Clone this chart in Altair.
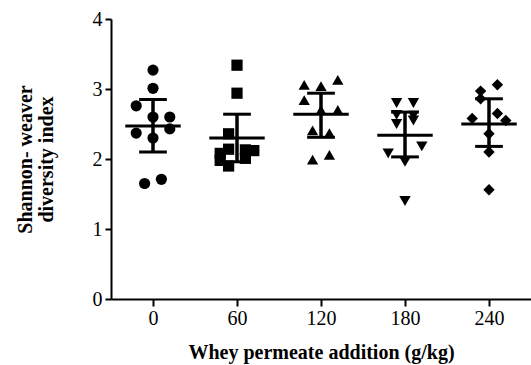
import json
import altair as alt
import pandas as pd

groups = ["0", "60", "120", "180", "240"]
shapes = ["circle", "square", "triangle-up", "triangle-down", "diamond"]

g0_vals = [3.27, 3.01, 2.76, 2.60, 2.60, 2.43, 2.37, 2.30, 1.71, 1.65]
g0_slots = [0, 0, -2, 0, 2, 2, -2, 0, 1, -1]
g60_vals = [3.34, 2.94, 2.36, 2.14, 2.13, 2.12, 2.08, 2.01, 1.98, 1.90]
g60_slots = [0, 0, -1, -1, 1, 2, -2, 1, -2, -1]
g120_vals = [3.13, 3.06, 3.04, 2.84, 2.70, 2.70, 2.41, 2.37, 2.06, 1.99]
g120_slots = [2, -2, 0, -2, 0, 2, -1, 1, 1, -1]
g180_vals = [2.80, 2.80, 2.63, 2.62, 2.55, 2.50, 2.18, 2.08, 1.96, 1.40]
g180_slots = [-1, 1, -1, 1, 1, -1, 2, -2, 0, 0]
g240_vals = [3.06, 2.97, 2.86, 2.65, 2.58, 2.55, 2.36, 2.10, 1.56]
g240_slots = [1, -1, -1, 1, -2, 2, 0, 0, 0]

means = [2.47, 2.30, 2.64, 2.34, 2.50]
upper = [2.85, 2.64, 2.94, 2.67, 2.86]
lower = [2.10, 1.96, 2.31, 2.03, 2.18]

all_vals = [g0_vals, g60_vals, g120_vals, g180_vals, g240_vals]
all_slots = [g0_slots, g60_slots, g120_slots, g180_slots, g240_slots]

rows = []
for i, (vals, slots) in enumerate(zip(all_vals, all_slots)):
    for v, s in zip(vals, slots):
        rows.append({"idx": i, "group": groups[i], "value": v, "slot": s})
pts = pd.DataFrame(rows)

summ = pd.DataFrame({"idx": list(range(len(groups))), "group": groups,
                     "mean": means, "upper": upper, "lower": lower})

FONT = "Liberation Serif"
label_expr = json.dumps(groups) + "[datum.value]"

xscale = alt.Scale(domain=[-0.5, 4.5], nice=False, zero=False)
yscale = alt.Scale(domain=[0, 4], nice=False)

xaxis = alt.Axis(values=[0, 1, 2, 3, 4], labelExpr=label_expr, grid=False,
                 title="Whey permeate addition (g/kg)", titleFont=FONT,
                 titleFontSize=20, titleFontWeight="bold", titleColor="black",
                 titleY=53, titleBaseline="middle",
                 labelFont=FONT, labelFontSize=20, labelColor="black",
                 labelPadding=2, tickSize=7, tickWidth=2, tickColor="black",
                 domainWidth=2, domainColor="black")
yaxis = alt.Axis(values=[0, 1, 2, 3, 4], format="d", grid=False,
                 title=["Shannon- weaver", "diversity index"], titleFont=FONT,
                 titleFontSize=20, titleFontWeight="bold", titleColor="black",
                 titleX=-86, titleBaseline="middle", titleAlign="center",
                 titleAngle=270, titleLineHeight=21,
                 labelFont=FONT, labelFontSize=20, labelColor="black",
                 labelPadding=3, tickSize=6, tickWidth=2, tickColor="black",
                 domainWidth=2, domainColor="black")

points = alt.Chart(pts).transform_calculate(
    xpos="datum.idx + datum.slot * 0.1"
).mark_point(filled=True, opacity=1, color="black", strokeWidth=0).encode(
    x=alt.X("xpos:Q", scale=xscale, axis=xaxis),
    y=alt.Y("value:Q", scale=yscale, axis=yaxis),
    shape=alt.Shape("group:N", scale=alt.Scale(domain=groups, range=shapes), legend=None),
    size=alt.Size("group:N", scale=alt.Scale(domain=groups, range=[125, 130, 175, 175, 180]), legend=None),
)

base = alt.Chart(summ).transform_calculate(
    ml="datum.idx - 0.33", mr="datum.idx + 0.33",
    cl="datum.idx - 0.165", cr="datum.idx + 0.165",
)

mean_line = base.mark_rule(color="black", strokeWidth=3).encode(
    x=alt.X("ml:Q", scale=xscale), x2="mr:Q", y=alt.Y("mean:Q", scale=yscale))
stem = base.mark_rule(color="black", strokeWidth=3.5).encode(
    x=alt.X("idx:Q", scale=xscale), y=alt.Y("lower:Q", scale=yscale), y2="upper:Q")
cap_hi = base.mark_rule(color="black", strokeWidth=3).encode(
    x=alt.X("cl:Q", scale=xscale), x2="cr:Q", y=alt.Y("upper:Q", scale=yscale))
cap_lo = base.mark_rule(color="black", strokeWidth=3).encode(
    x=alt.X("cl:Q", scale=xscale), x2="cr:Q", y=alt.Y("lower:Q", scale=yscale))

chart = alt.layer(points, stem, cap_hi, cap_lo, mean_line).properties(
    width=420, height=280,
    padding={"left": 111, "top": 19, "right": 0, "bottom": 66},
    autosize=alt.AutoSizeParams(type="none"),
    background="white",
).configure_view(stroke=None)

chart.save("out.html", embed_options={"renderer": "svg", "actions": False})
